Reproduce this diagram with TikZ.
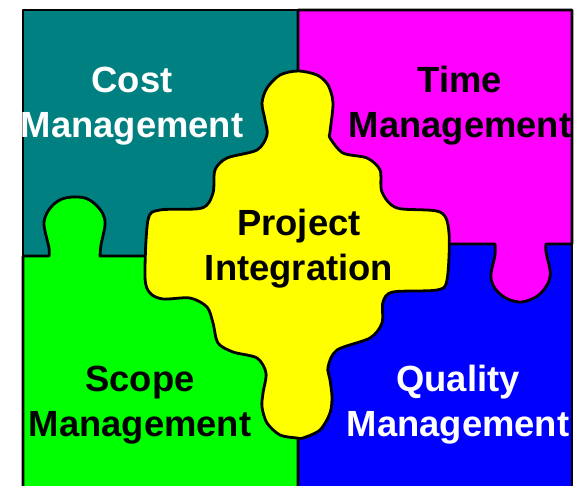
\documentclass[tikz,border=0pt]{standalone}
\usepackage{fontspec}
\setmainfont{Liberation Sans}
\definecolor{teal0}{RGB}{0,128,128}
\definecolor{mag0}{RGB}{255,0,255}
\definecolor{grn0}{RGB}{0,255,0}
\definecolor{blu0}{RGB}{0,0,255}
\definecolor{yel0}{RGB}{255,255,0}
\tikzset{
  piece/.style={draw=black,line width=2.8pt,line join=round},
  label0/.style={font=\fontsize{36.4}{45}\selectfont\bfseries,align=center,inner sep=0pt,anchor=center}
}
\begin{document}
\begin{tikzpicture}[x=1pt,y=-1pt]
\useasboundingbox (0,0) rectangle (584,486);
\clip (0,0) rectangle (584,486);
\fill[white] (0,0) rectangle (584,486);
% regions
\path[piece,fill=teal0] (23,10) rectangle (298,300);
\path[piece,fill=blu0] (298,244) rectangle (572,500);
\path[piece,fill=mag0] (298,10) -- (572,10) -- (572,244) -- (546,244)
  -- plot[smooth,tension=.55] coordinates {(546,244) (546,252) (550,270) (549,281) (542,292) (534,298) (522,302) (510,300) (500,294) (493,285) (491,274) (495,255) (495,244)}
  -- (298,244) -- cycle;
\path[piece,fill=grn0] (23,500) -- (23,256) -- (49,256)
  -- plot[smooth,tension=.55] coordinates {(49,256) (49,248) (44,225) (47,213) (54,204) (62,199) (72,197) (85,198) (95,204) (103,214) (105,225) (101,245) (100,256)}
  -- (298,256) -- (298,500) -- cycle;
% centre piece
\path[piece,fill=yel0] plot[smooth cycle,tension=.5] coordinates {
  (298,71) (280,75) (267,88) (262,103) (265,120) (267,135) (257,150) (227,158) (215,170) (213,193) (202,208)
  (160,210) (148,220) (145,277) (150,293) (163,299) (190,298) (207,307) (213,323) (218,343)
  (233,352) (257,358) (266,373) (263,393) (262,407) (267,423) (280,435) (297,438) (303,438) (320,430) (330,413) (332,397) (330,380) (328,367)
  (337,350) (370,338) (382,323) (383,302) (393,292) (437,290) (447,280) (449,233) (440,212)
  (397,208) (382,192) (380,170) (367,158) (343,153) (330,138) (330,132) (333,103) (328,85) (317,75)};
% labels
\node[label0,text=white] (cost) at (132,106) {Cost\\Management};
\node[label0,text=black] (time) at (460,106) {Time\\Management};
\node[label0,text=black] (scope) at (140,405) {Scope\\Management};
\node[label0,text=white] (quality) at (458,405) {Quality\\Management};
\node[label0,text=black] (proj) at (299,249) {Project\\Integration};
\end{tikzpicture}
\end{document}
